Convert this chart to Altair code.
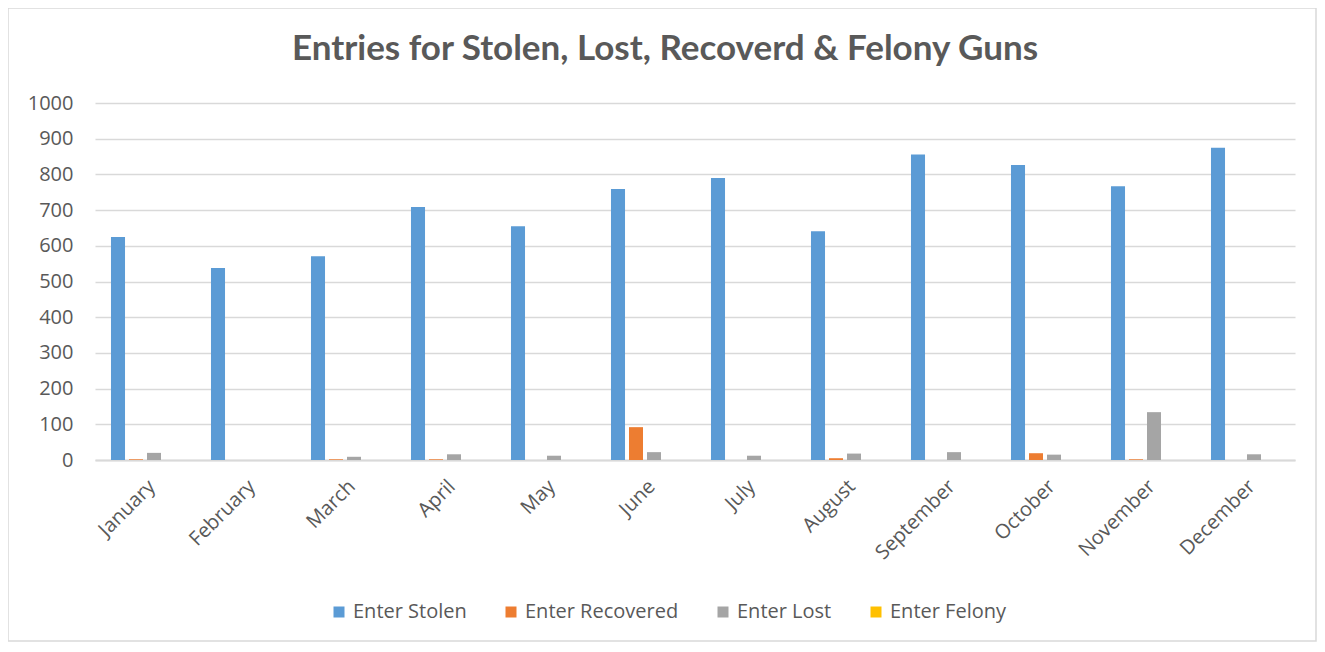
import altair as alt
import pandas as pd

months = ["January", "February", "March", "April", "May", "June", "July",
          "August", "September", "October", "November", "December"]
series = ["Enter Stolen", "Enter Recovered", "Enter Lost", "Enter Felony"]
colors = ["#5b9bd5", "#ed7d31", "#a5a5a5", "#ffc000"]

stolen = [625, 538, 571, 709, 655, 759, 790, 641, 856, 826, 767, 875]
recovered = [2, 0, 2, 2, 0, 92, 0, 5, 0, 19, 2, 0]
lost = [20, 0, 9, 16, 12, 22, 12, 18, 22, 15, 134, 16]
felony = [0, 0, 0, 0, 0, 0, 0, 0, 0, 0, 0, 0]

title_text = ["Entries for Stolen, Lost, Recoverd & Felony Guns"]

rows = []
for s, vals in zip(series, [stolen, recovered, lost, felony]):
    for m, v in zip(months, vals):
        rows.append({"Month": m, "Series": s, "Value": v})
df = pd.DataFrame(rows)

FONT = "Open Sans"
GREY = "#595959"

bars = alt.Chart(df).mark_bar().encode(
    x=alt.X("Month:N", sort=months,
            scale=alt.Scale(paddingInner=0.28, paddingOuter=0.14),
            axis=alt.Axis(title=None, labelAngle=-45, ticks=False,
                          domainColor="#d9d9d9", domainWidth=2,
                          labelFontSize=20, labelColor=GREY, labelFont=FONT,
                          labelPadding=16)),
    xOffset=alt.XOffset("Series:N", sort=series,
                        scale=alt.Scale(paddingInner=0.22, paddingOuter=0.11)),
    y=alt.Y("Value:Q", scale=alt.Scale(domain=[0, 1000]),
            axis=alt.Axis(title=None, values=list(range(0, 1001, 100)), format="d",
                          domain=False, ticks=False, gridColor="#d9d9d9",
                          gridWidth=1.5, labelFontSize=20, labelColor=GREY,
                          labelFont=FONT, labelPadding=22)),
    color=alt.Color("Series:N", sort=series,
                    scale=alt.Scale(domain=series, range=colors),
                    legend=alt.Legend(title=None, orient="none", direction="horizontal",
                                      legendX=234, legendY=499,
                                      symbolType="square", symbolSize=121,
                                      symbolStrokeWidth=0,
                                      labelFontSize=20, labelColor=GREY,
                                      labelFont=FONT, columnPadding=34,
                                      labelLimit=300)),
)

border = alt.Chart(alt.Data(values=[{"a": 1}])).mark_rect(
    fill=None, stroke="#d9d9d9", strokeWidth=1.5
).encode(x=alt.value(-87), x2=alt.value(1221), y=alt.value(-95), y2=alt.value(538))

title = alt.Chart(pd.DataFrame({"t": title_text})).mark_text(
    font="Lato", fontSize=35, fontWeight="bold", color=GREY,
    align="center", baseline="alphabetic"
).encode(text="t:N", x=alt.value(570), y=alt.value(-43))

chart = alt.layer(bars, border, title).properties(
    width=1200, height=357,
    autosize=alt.AutoSizeParams(type="none"),
    padding={"left": 87, "top": 95, "right": 22, "bottom": 184},
).configure_view(stroke=None)

chart.save("out.html", embed_options={"renderer": "svg", "actions": False})
